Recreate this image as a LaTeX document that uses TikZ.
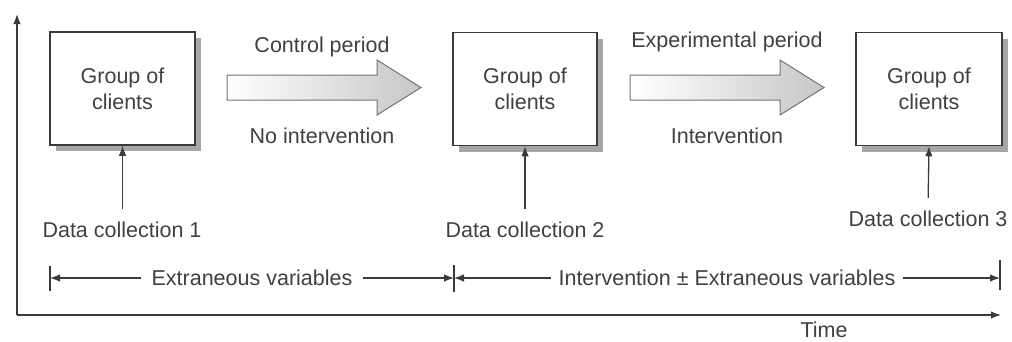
\documentclass[tikz,border=0pt]{standalone}
\usepackage{fontspec}
\setmainfont{Liberation Sans}
\usetikzlibrary{arrows.meta,shadows}
\definecolor{ink}{HTML}{3A3A3A}
\definecolor{txt}{HTML}{404040}
\begin{document}
\begin{tikzpicture}[x=1pt,y=-1pt,
  every node/.style={text=txt,font=\fontsize{21.5}{26}\selectfont},
  clientbox/.style={draw=ink,line width=1.5pt,fill=white,minimum width=145pt,minimum height=113pt,align=center,
    drop shadow={shadow xshift=6pt,shadow yshift=-6pt,fill=black!35,opacity=1}},
  arr/.style={draw=ink,line width=1.3pt,-{Latex[length=10pt,width=7.5pt]}},
  dimarr/.style={draw=ink,line width=1.3pt,{Latex[length=10pt,width=7.5pt]}-{Latex[length=10pt,width=7.5pt]}},
  blockarrow/.style={draw=black!55,line width=1pt,left color=white,right color=black!22},
  lbl/.style={anchor=base}]
\useasboundingbox (0,0) rectangle (1012,341);

% axes
\coordinate (O) at (17,315);
\coordinate (ytip) at (17,14);
\coordinate (xtip) at (1001,315);
\draw[arr,line width=1.5pt] (O) -- (ytip);
\draw[arr,line width=1.5pt] (O) -- (xtip);
\node[lbl,inner sep=0pt] (time) at (824,337) {Time};

% boxes
\node[clientbox] (b1) at (122.5,88.5) {Group of\\clients};
\node[clientbox,minimum width=144pt] (b2) at (525,89) {Group of\\clients};
\node[clientbox,minimum width=146pt] (b3) at (929,89) {Group of\\clients};

% block arrows
\path[blockarrow] (227,75) -- (377,75) -- (377,60) -- (421,87.5) -- (377,115) -- (377,100) -- (227,100) -- cycle;
\path[blockarrow] (630,75) -- (780,75) -- (780,60) -- (824,87.5) -- (780,115) -- (780,100) -- (630,100) -- cycle;
\node[lbl] (cp) at (322,52) {Control period};
\node[lbl] (ni) at (322,143) {No intervention};
\node[lbl] (ep) at (727,47) {Experimental period};
\node[lbl] (iv) at (727,143) {Intervention};

% data collection
\node[lbl] (d1) at (122,237) {Data collection 1};
\node[lbl] (d2) at (525,237) {Data collection 2};
\node[lbl] (d3) at (928,226) {Data collection 3};
\draw[arr,shorten <=9pt] (d1.north -| b1.south) -- (b1.south);
\draw[arr,shorten <=9pt] (d2.north) -- (b2.south);
\draw[arr,shorten <=9pt] (d3.north) -- (b3.south);

% dimension lines
\coordinate (t1) at (50,278);
\coordinate (t2) at (454,278);
\coordinate (t3) at (1000,278);
\draw[ink,line width=1.3pt] ([yshift=12pt]t1) -- ([yshift=-13pt]t1);
\draw[ink,line width=1.3pt] ([yshift=13pt]t2) -- ([yshift=-14pt]t2);
\draw[ink,line width=1.3pt] ([yshift=18pt]t3) -- ([yshift=-12pt]t3);
\draw[dimarr] (t1) -- node[fill=white,inner xsep=11pt,inner ysep=1pt] (ev) {Extraneous variables} (t2);
\draw[dimarr] (t2) -- node[fill=white,inner xsep=8pt,inner ysep=1pt] (iev) {Intervention ± Extraneous variables} (t3);
\end{tikzpicture}
\end{document}
